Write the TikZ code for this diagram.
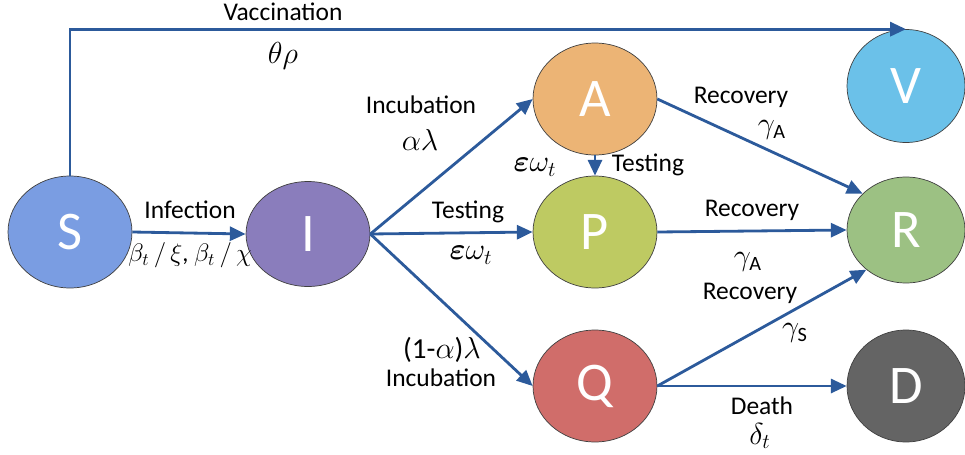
\documentclass[tikz,border=0pt]{standalone}
\usepackage{amsmath}
\usepackage{bm}
\usepackage{fontspec}
\setmainfont{Carlito}
\usetikzlibrary{shapes.geometric,arrows.meta}
\definecolor{flowblue}{RGB}{44,90,155}
\definecolor{colS}{RGB}{122,157,226}
\definecolor{colI}{RGB}{138,125,188}
\definecolor{colA}{RGB}{236,180,117}
\definecolor{colP}{RGB}{190,202,98}
\definecolor{colQ}{RGB}{208,109,106}
\definecolor{colR}{RGB}{156,193,131}
\definecolor{colV}{RGB}{107,193,233}
\definecolor{colD}{RGB}{100,100,100}
\tikzset{
    comp/.style={ellipse,draw=black!75,thin,minimum width=2.48cm,minimum height=2.24cm,inner sep=0,text=white,font=\fontsize{31}{31}\selectfont},
    side/.style={comp,minimum width=2.36cm},
    flow/.style={draw=flowblue,line width=1.6pt,-{Triangle[length=9pt,width=8pt]}},
    lab/.style={font=\fontsize{14.5}{17}\selectfont,inner sep=0},
    rate/.style={font=\fontsize{16.5}{19}\selectfont,inner sep=0}
}

\begin{document}
\begin{tikzpicture}[x=0.02cm,y=-0.02cm]
    \useasboundingbox (0,0) rectangle (965,454);
    % compartments
    \node[comp,fill=colS] (S) at (70,232) {S};
    \node[comp,fill=colI,minimum height=2.1cm] (I) at (308,234) {I};
    \node[comp,fill=colA] (A) at (595,99) {A};
    \node[comp,fill=colP] (P) at (595,232) {P};
    \node[comp,fill=colQ] (Q) at (595,386) {Q};
    \node[side,fill=colV,minimum height=2.26cm] (V) at (906,86) {V};
    \node[side,fill=colR,minimum height=2.12cm] (R) at (906,230) {R};
    \node[side,fill=colD] (D) at (906,386) {D};
    % flows
    \draw[flow] (S.north) |- (V.north);
    \draw[flow] (S.east) -- (I.west);
    \draw[flow] (I.east) -- (A.west);
    \draw[flow] (I.east) -- (P.west);
    \draw[flow] (I.east) -- (Q.west);
    \draw[flow] (A.south) -- (P.north);
    \draw[flow] (A.east) -- (R.140);
    \draw[flow] (P.east) -- (R.west);
    \draw[flow] (Q.east) -- (R.225);
    \draw[flow] (Q.east) -- (D.west);
    % rates
    \node[lab] (vac) at (283,12) {Vaccination};
    \node[rate] (vacr) at (283,56) {$\theta\rho$};
    \node[lab] (inf) at (190,210) {Infection};
    \node[lab,font=\fontsize{14}{17}\selectfont] (infr) at (190,255) {$\beta_t\,/\,\xi$, $\beta_t\,/\,\chi$};
    \node[lab] (incA) at (421,105) {Incubation};
    \node[rate] (incAr) at (420,140) {$\alpha\lambda$};
    \node[lab] (tstP) at (468,212) {Testing};
    \node[rate] (tstPr) at (471,255) {$\bm{\varepsilon}\omega_t$};
    \node[lab] (tstA) at (648,165) {Testing};
    \node[rate] (tstAr) at (535,167) {$\bm{\varepsilon}\omega_t$};
    \node[lab] (recA) at (741,97) {Recovery};
    \node[rate] (recAr) at (772,130) {$\gamma_{\text{A}}$};
    \node[lab] (recP) at (752,210) {Recovery};
    \node[rate] (recPr) at (748,262) {$\gamma_{\text{A}}$};
    \node[lab] (recQ) at (750,293) {Recovery};
    \node[rate] (recQr) at (795,333) {$\gamma_{\text{S}}$};
    \node[rate] (incQr) at (442,350) {(1-$\alpha$)$\lambda$};
    \node[lab] (incQ) at (441,378) {Incubation};
    \node[lab] (dth) at (762,406) {Death};
    \node[rate] (dthr) at (760,436) {$\delta_t$};
\end{tikzpicture}
\end{document}
